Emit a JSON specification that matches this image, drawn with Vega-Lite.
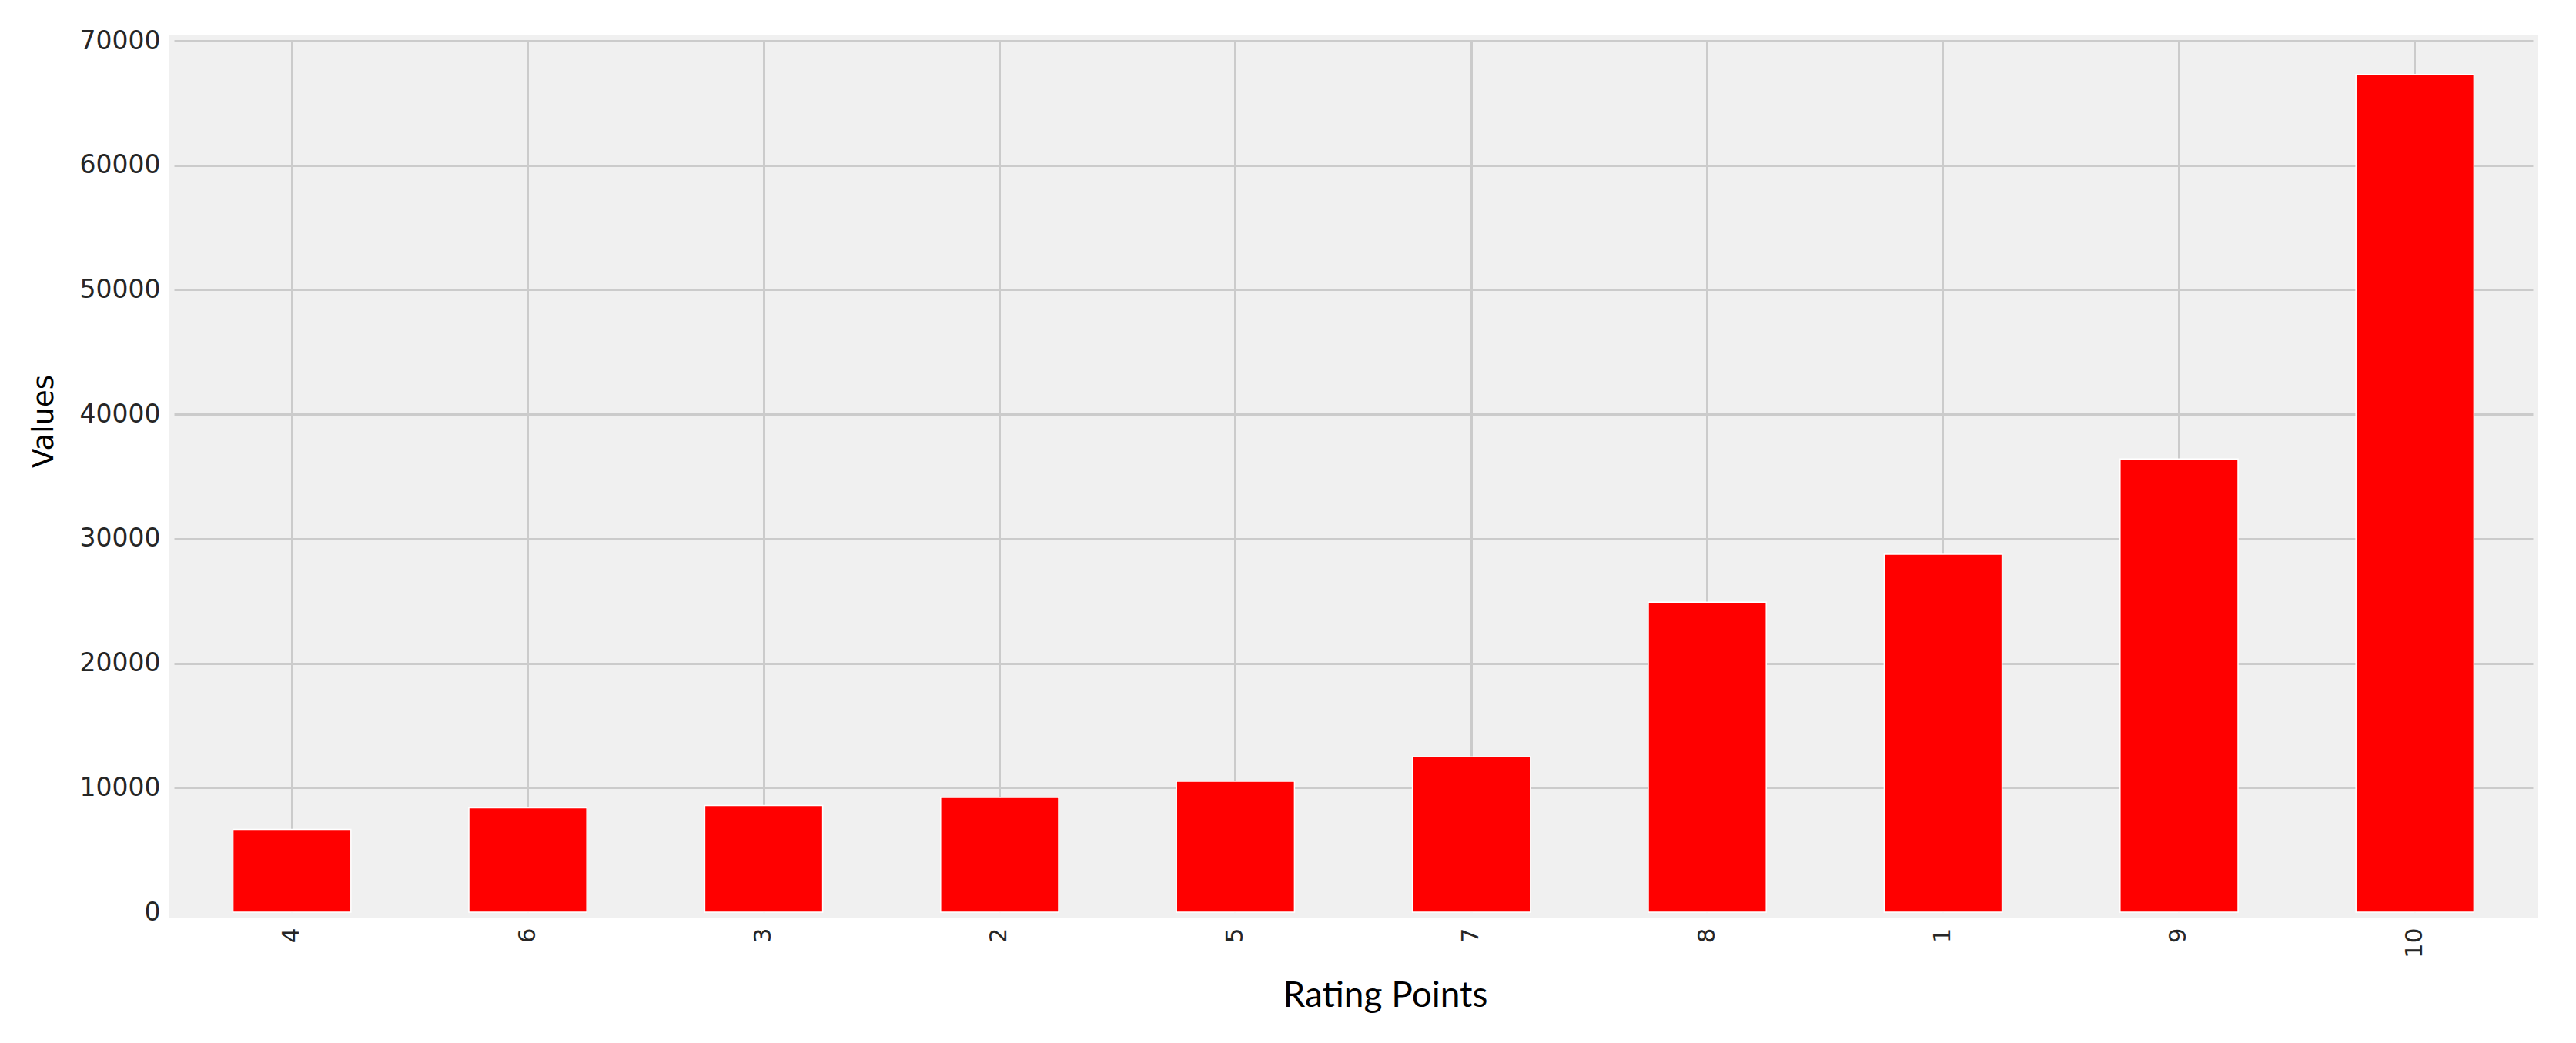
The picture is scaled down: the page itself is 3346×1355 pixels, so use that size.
{
  "$schema": "https://vega.github.io/schema/vega-lite/v6.json",
  "autosize": "none",
  "padding": {"left": 226, "top": 53, "right": 56, "bottom": 170},
  "width": 3064,
  "height": 1132,
  "background": "#ffffff",
  "config": {
    "view": {"fill": "#f0f0f0", "stroke": "#f0f0f0", "strokeWidth": 14}
  },
  "data": {
    "values": [
      {"rating": "4", "count": 6650},
      {"rating": "6", "count": 8380},
      {"rating": "3", "count": 8560},
      {"rating": "2", "count": 9210},
      {"rating": "5", "count": 10510},
      {"rating": "7", "count": 12480},
      {"rating": "8", "count": 24900},
      {"rating": "1", "count": 28760},
      {"rating": "9", "count": 36400},
      {"rating": "10", "count": 67300}
    ]
  },
  "mark": {"type": "bar", "color": "#ff0000", "stroke": "#ffffff", "strokeWidth": 1.5},
  "encoding": {
    "x": {
      "field": "rating",
      "type": "nominal",
      "sort": null,
      "scale": {"paddingInner": 0.5, "paddingOuter": 0.25},
      "axis": {
        "title": "Rating Points",
        "titleFont": "Lato",
        "titleFontSize": 46,
        "titleFontWeight": "normal",
        "titleColor": "#000000",
        "titleX": 1573,
        "titleY": 122,
        "titleAlign": "center",
        "titleBaseline": "alphabetic",
        "labelAngle": -90,
        "labelFont": "DejaVu Sans",
        "labelFontSize": 31,
        "labelColor": "#262626",
        "labelPadding": 20,
        "ticks": false,
        "domain": false,
        "grid": true,
        "bandPosition": 0.5,
        "gridColor": "#cbcbcb",
        "gridWidth": 3
      }
    },
    "y": {
      "field": "count",
      "type": "quantitative",
      "scale": {"domain": [0, 70000], "nice": false, "zero": true},
      "axis": {
        "title": "Values",
        "titleFont": "DejaVu Sans",
        "titleFontSize": 37,
        "titleFontWeight": "normal",
        "titleColor": "#000000",
        "titleAngle": -90,
        "titleX": -169,
        "titleY": 494,
        "titleAlign": "center",
        "titleBaseline": "middle",
        "values": [0, 10000, 20000, 30000, 40000, 50000, 60000, 70000],
        "format": "d",
        "labelFont": "DejaVu Sans",
        "labelFontSize": 33,
        "labelColor": "#262626",
        "labelPadding": 18,
        "ticks": false,
        "domain": false,
        "grid": true,
        "gridColor": {"condition": {"test": "datum.value === 0", "value": "transparent"}, "value": "#cbcbcb"},
        "gridWidth": 3
      }
    }
  }
}
